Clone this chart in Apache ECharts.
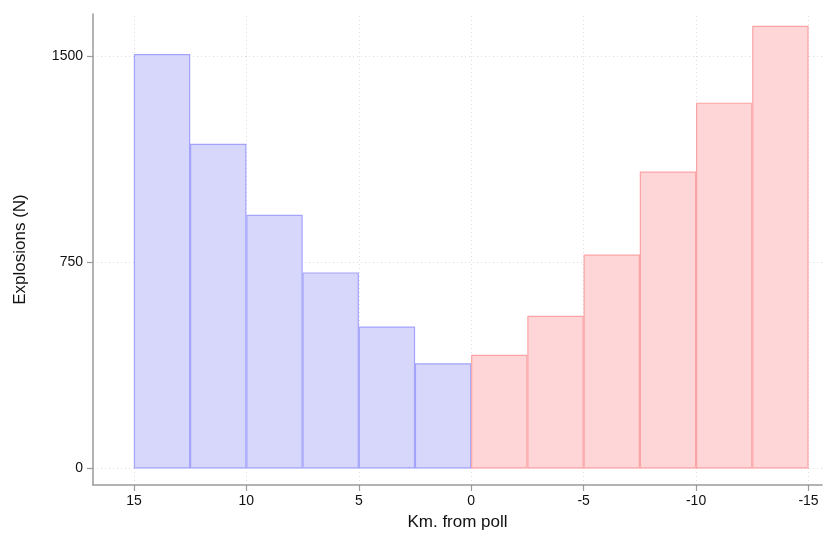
<!DOCTYPE html>
<html>
<head>
<meta charset="utf-8">
<script src="https://cdn.jsdelivr.net/npm/echarts@6/dist/echarts.min.js"></script>
<style>html,body{margin:0;padding:0;background:#fff}#c{width:824px;height:537px}</style>
</head>
<body>
<div id="c"></div>
<script>
// Bin edges (km from poll) and counts
const blueBinStart = [15, 12.5, 10, 7.5, 5, 2.5];
const blueBinEnd   = [12.5, 10, 7.5, 5, 2.5, 0];
const blueCounts   = [1505, 1178, 920, 710, 513, 379];
const redBinStart  = [0, -2.5, -5, -7.5, -10, -12.5];
const redBinEnd    = [-2.5, -5, -7.5, -10, -12.5, -15];
const redCounts    = [410, 552, 775, 1077, 1328, 1608];
const xTicks = [15, 10, 5, 0, -5, -10, -15];
const yTicks = [0, 750, 1500];

const font = '"Liberation Sans", Arial, Helvetica, sans-serif';

function binData(starts, ends, vals) {
  return starts.map((s, i) => [s, ends[i], vals[i]]);
}
function makeRender(fill, stroke) {
  return function (params, api) {
    const p0 = api.coord([api.value(0), 0]);
    const p1 = api.coord([api.value(1), api.value(2)]);
    const x = Math.min(p0[0], p1[0]), w = Math.abs(p1[0] - p0[0]);
    const y = Math.min(p0[1], p1[1]), h = Math.abs(p1[1] - p0[1]);
    return {
      type: 'rect',
      shape: { x: x + 0.5, y: y, width: w - 1, height: h },
      style: { fill: fill, stroke: stroke, lineWidth: 1.2 }
    };
  };
}

const chart = echarts.init(document.getElementById('c'), null, { renderer: 'canvas' });
const gridLine = { color: '#dcdcdc', type: [1, 3], width: 1 };
chart.setOption({
  animation: false,
  backgroundColor: '#fff',
  grid: { left: 93, right: 2, top: 14, bottom: 52, containLabel: false, outerBoundsMode: 'none' },
  xAxis: {
    type: 'value', inverse: true, min: -15.6, max: 16.82,
    name: 'Km. from poll', nameLocation: 'middle', nameGap: 29,
    nameTextStyle: { fontFamily: font, fontSize: 17, color: '#111' },
    axisLine: { show: true, onZero: false, lineStyle: { color: '#9a9a9a', width: 1.5 } },
    axisTick: { show: true, length: 6, customValues: xTicks, lineStyle: { color: '#9a9a9a', width: 1.2 } },
    axisLabel: { customValues: xTicks, formatter: v => String(v), fontFamily: font, fontSize: 14, color: '#111', margin: 9 },
    splitLine: { show: false }
  },
  yAxis: {
    type: 'value', min: -62, max: 1653,
    name: 'Explosions (N)', nameLocation: 'middle', nameGap: 64,
    nameTextStyle: { fontFamily: font, fontSize: 17, color: '#111' },
    axisLine: { show: true, onZero: false, lineStyle: { color: '#9a9a9a', width: 1.5 } },
    axisTick: { show: true, length: 6, customValues: yTicks, lineStyle: { color: '#9a9a9a', width: 1.2 } },
    axisLabel: { customValues: yTicks, formatter: v => String(v), fontFamily: font, fontSize: 14, color: '#111', margin: 10 },
    splitLine: { show: false }
  },
  series: [
    {
      type: 'custom', name: 'grid', silent: true, data: [], z: 0,
      renderItem: () => null,
      markLine: {
        silent: true, symbol: 'none', label: { show: false }, z: 0,
        lineStyle: gridLine, animation: false,
        data: yTicks.map(v => ({ yAxis: v })).concat(xTicks.map(v => ({ xAxis: v })))
      }
    },
    {
      type: 'custom', name: 'toward', renderItem: makeRender('#d7d7fc', '#a3a3fb'), z: 3,
      encode: { x: [0, 1], y: 2 },
      data: binData(blueBinStart, blueBinEnd, blueCounts)
    },
    {
      type: 'custom', name: 'away', renderItem: makeRender('#fed6d8', '#fba3a5'), z: 3,
      encode: { x: [0, 1], y: 2 },
      data: binData(redBinStart, redBinEnd, redCounts)
    }
  ]
});
</script>
</body>
</html>
